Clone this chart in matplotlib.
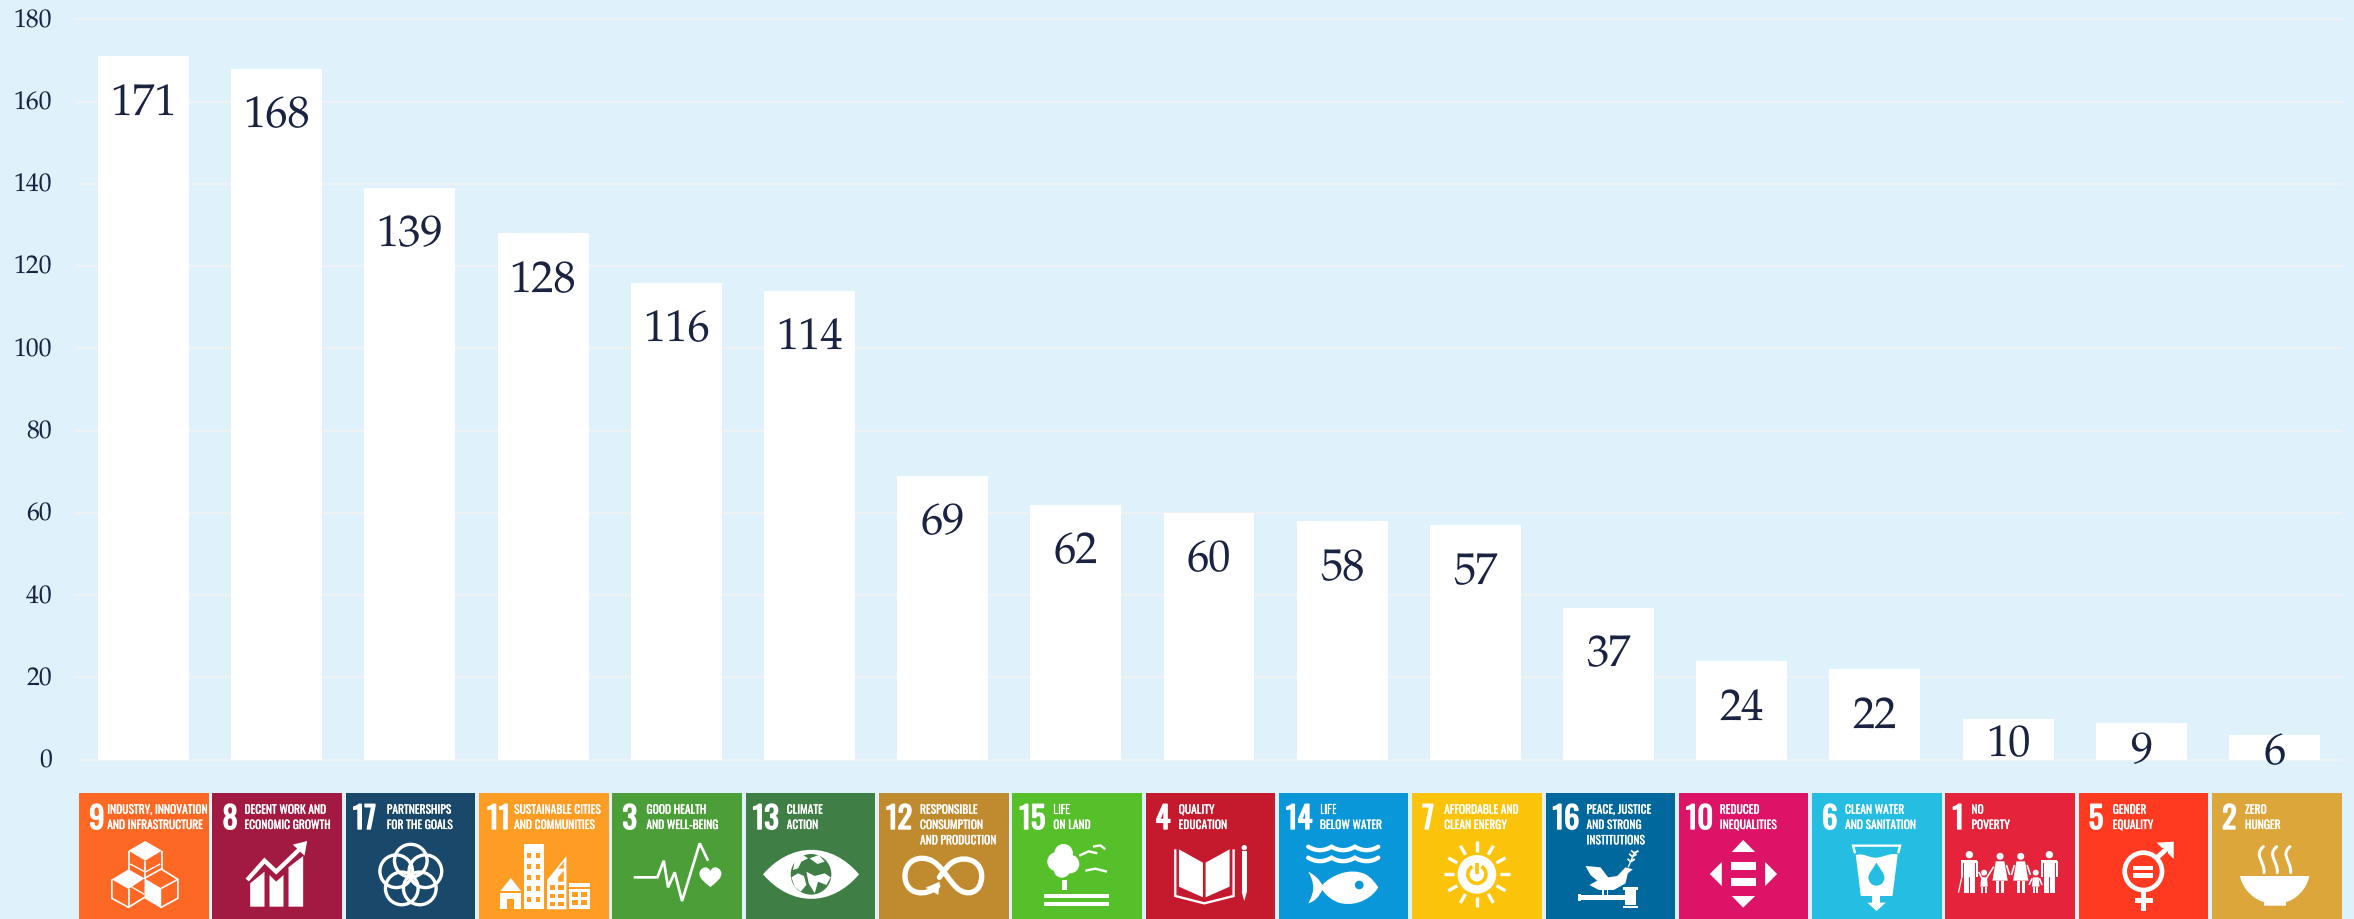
import numpy as np
import matplotlib
matplotlib.use('Agg')
import matplotlib.pyplot as plt
import matplotlib.font_manager as fm
import matplotlib.patheffects as pe
import matplotlib.transforms as mtrans
from matplotlib.patches import Polygon, Circle, Rectangle, PathPatch
from matplotlib.path import Path

plt.rcParams['text.hinting'] = 'no_hinting'
plt.rcParams['text.hinting_factor'] = 1

# ---------- data ----------
goal_numbers = ['9', '8', '17', '11', '3', '13', '12', '15', '4', '14', '7', '16', '10', '6', '1', '5', '2']
counts = [171, 168, 139, 128, 116, 114, 69, 62, 60, 58, 57, 37, 24, 22, 10, 9, 6]
goal_titles = [
    ['INDUSTRY, INNOVATION', 'AND INFRASTRUCTURE'], ['DECENT WORK AND', 'ECONOMIC GROWTH'],
    ['PARTNERSHIPS', 'FOR THE GOALS'], ['SUSTAINABLE CITIES', 'AND COMMUNITIES'],
    ['GOOD HEALTH', 'AND WELL-BEING'], ['CLIMATE', 'ACTION'],
    ['RESPONSIBLE', 'CONSUMPTION', 'AND PRODUCTION'], ['LIFE', 'ON LAND'],
    ['QUALITY', 'EDUCATION'], ['LIFE', 'BELOW WATER'],
    ['AFFORDABLE AND', 'CLEAN ENERGY'], ['PEACE, JUSTICE', 'AND STRONG', 'INSTITUTIONS'],
    ['REDUCED', 'INEQUALITIES'], ['CLEAN WATER', 'AND SANITATION'],
    ['NO', 'POVERTY'], ['GENDER', 'EQUALITY'], ['ZERO', 'HUNGER'],
]
goal_colors = ['#FD6925', '#A21942', '#19486A', '#FD9D24', '#4C9F38', '#3F7E44', '#BF8B2E', '#56C02B',
               '#C5192D', '#0A97D9', '#FCC30B', '#00689D', '#DD1367', '#26BDE2', '#E5243B', '#FF3A21', '#DDA63A']
y_ticks = [0, 20, 40, 60, 80, 100, 120, 140, 160, 180]

# ---------- style ----------
W, H = 2354, 920
BG = '#DFF1FB'
GRID = '#EFF1F3'
INK = '#1A2342'
installed = {f.name for f in fm.fontManager.ttflist}
def pick(*names):
    for n in names:
        if n in installed:
            return n
    return 'DejaVu Sans'
SERIF = pick('Palatino Linotype', 'Book Antiqua', 'TeX Gyre Pagella', 'P052', 'URW Palladio L', 'Gelasio', 'Liberation Serif')
COND = pick('Oswald', 'Liberation Sans Narrow', 'Roboto Condensed', 'Roboto')

fig = plt.figure(figsize=(W / 100, H / 100), dpi=100, facecolor=BG)
L, R, Y0, Y180 = 77, 2341, 760.7, 20.3
ax = fig.add_axes([L / W, 1 - Y0 / H, (R - L) / W, (Y0 - Y180) / H], facecolor='none')
x = np.arange(len(counts))
ax.set_xlim(-0.5, len(counts) - 0.5)
ax.set_ylim(0, 180)
for s in ax.spines.values():
    s.set_visible(False)
ax.set_axisbelow(True)
ax.yaxis.grid(True, color=GRID, lw=1.5, clip_on=False)
ax.set_xticks([])
ax.set_yticks(y_ticks)
ax.tick_params(axis='y', length=0, pad=18, labelsize=18.5, labelcolor=INK)
lift = mtrans.ScaledTranslation(0, 2.5 / 100, fig.dpi_scale_trans)
for t in ax.get_yticklabels():
    t.set_fontfamily(SERIF)
    t.set_clip_on(False)
    t.set_transform(t.get_transform() + lift)
ax.bar(x, counts, width=0.683, color='white', zorder=2)

# labels sit a fixed distance under the bar top; the three shortest bars hold them closer
short_drop = {10: 37, 9: 39, 6: 28}
for xi, v in zip(x, counts):
    drop = short_drop.get(v, 57.5)
    ax.annotate(str(v), (xi, v), xytext=(0, -drop * 0.72), textcoords='offset points',
                ha='center', va='baseline', fontsize=32, color=INK, family=SERIF,
                zorder=3, annotation_clip=False)

# ---------- tiles: each has its own axes in "zoom units" (3 per pixel) ----------
TILE_LEFT0, TILE_PITCH, TILE_W, TILE_TOP = 79.2, 133.3, 129.5, 794.0

def tile_axes(i, ox, oy=9):
    a = fig.add_axes([(TILE_LEFT0 + TILE_PITCH * i) / W, 0, TILE_W / W, (H - TILE_TOP) / H])
    a.set_xlim(ox, ox + TILE_W * 3)
    a.set_ylim(oy + (H - TILE_TOP) * 3, oy)
    a.set_facecolor(goal_colors[i])
    a.set_xticks([]); a.set_yticks([])
    for s in a.spines.values():
        s.set_visible(False)
    return a

def poly(a, pts, c='white'):
    a.add_patch(Polygon(pts, closed=True, fc=c, ec='none'))
def rect(a, x0, y0, x1, y1, c='white'):
    a.add_patch(Rectangle((x0, y0), x1 - x0, y1 - y0, fc=c, ec='none'))
def circ(a, cx, cy, r, c='white'):
    a.add_patch(Circle((cx, cy), r, fc=c, ec='none'))
def ring(a, cx, cy, r, w, c='white'):
    a.add_patch(Circle((cx, cy), r, fc='none', ec=c, lw=w * 0.24))
def line(a, pts, w, c='white', cap='butt', join='miter'):
    xs, ys = zip(*pts)
    a.plot(xs, ys, color=c, lw=w * 0.24, solid_capstyle=cap, solid_joinstyle=join)
def curve(a, verts, w=None, c='white', fill=False):
    codes = [Path.MOVETO]
    out = [verts[0]]
    for seg in verts[1:]:
        if len(seg) == 2 and not isinstance(seg[0], tuple):
            codes.append(Path.LINETO); out.append(seg)
        else:
            codes += [Path.CURVE4] * 3; out += list(seg)
    if fill:
        a.add_patch(PathPatch(Path(out, codes), fc=c, ec='none'))
    else:
        a.add_patch(PathPatch(Path(out, codes), fc='none', ec=c, lw=w * 0.24, capstyle='round'))

def icon9(a):
    poly(a, [(210, 153), (260, 182), (210, 212), (160, 182)])
    line(a, [(160, 182), (160, 240)], 5); line(a, [(260, 182), (260, 240)], 5); line(a, [(210, 212), (210, 268)], 5)
    line(a, [(165, 222), (208, 245)], 4); line(a, [(255, 222), (212, 245)], 4)
    poly(a, [(110, 268), (160, 238), (208, 265), (160, 297)])
    line(a, [(110, 268), (110, 325), (160, 352), (208, 322)], 5); line(a, [(160, 297), (160, 352)], 5)
    line(a, [(168, 290), (208, 313)], 4)
    line(a, [(208, 265), (258, 237), (308, 268), (308, 325), (258, 352), (208, 322)], 5)
    poly(a, [(208, 265), (258, 295), (258, 352), (208, 322)]); line(a, [(258, 295), (308, 268)], 5)

def icon8(a):
    poly(a, [(527, 350), (527, 280), (570, 245), (570, 350)])
    poly(a, [(585, 350), (585, 255), (605, 275), (627, 255), (627, 350)])
    poly(a, [(642, 350), (642, 232), (686, 198), (686, 350)])
    line(a, [(518, 270), (570, 212), (605, 245), (675, 178)], 13)
    poly(a, [(698, 153), (655, 164), (690, 197)])

def icon17(a):
    for ang in np.deg2rad([-90, -18, 54, 126, 198]):
        ring(a, 1008 + 46 * np.cos(ang), 258 + 46 * np.sin(ang), 49, 10)

def icon11(a):
    o = '#FD9D24'
    rect(a, 1347, 162, 1407, 358)
    for yy in (188, 222, 255, 288, 321):
        rect(a, 1357, yy, 1369, yy + 16, o); rect(a, 1383, yy, 1395, yy + 16, o)
    poly(a, [(1276, 303), (1307, 264), (1338, 303)])
    rect(a, 1276, 310, 1338, 358); rect(a, 1296, 326, 1318, 358, o)
    poly(a, [(1416, 358), (1416, 270), (1474, 198), (1474, 358)])
    for yy in (286, 311, 335):
        rect(a, 1424, yy, 1441, yy + 13, o); rect(a, 1449, yy, 1466, yy + 13, o)
    poly(a, [(1449, 262), (1466, 242), (1466, 275), (1449, 275)], o)
    poly(a, [(1450, 236), (1466, 216), (1466, 236)], o)
    rect(a, 1482, 280, 1544, 292); rect(a, 1482, 298, 1544, 358)
    for yy in (306, 329):
        rect(a, 1490, yy, 1510, yy + 15, o); rect(a, 1518, yy, 1537, yy + 15, o)

def icon3(a):
    line(a, [(115, 262), (186, 262), (205, 212), (218, 292), (238, 247), (260, 333), (313, 160), (338, 212)], 8, join='miter')
    curve(a, [(345, 291), ((325, 275), (312, 265), (312, 251)), ((312, 235), (335, 222), (345, 243)),
              ((355, 222), (378, 235), (378, 251)), ((378, 265), (365, 275), (345, 291))], fill=True)

def icon13(a):
    g = '#3F7E44'
    curve(a, [(505, 253), ((590, 155), (710, 155), (793, 253)), ((710, 351), (590, 351), (505, 253))], fill=True)
    circ(a, 649, 253, 61, g)
    poly(a, [(600, 210), (625, 195), (640, 205), (620, 215), (610, 235), (595, 240)])
    poly(a, [(590, 262), (610, 250), (628, 258), (635, 285), (618, 305), (600, 290)])
    poly(a, [(635, 245), (660, 258), (690, 250), (708, 262), (695, 285), (670, 275), (660, 310), (642, 280)])
    poly(a, [(645, 205), (672, 195), (690, 215), (668, 222)])

def icon12(a):
    curve(a, [(1028, 288), ((995, 322), (930, 315), (930, 258)), ((930, 200), (995, 190), (1028, 225)),
              ((1050, 245), (1065, 275), (1085, 293)), ((1115, 322), (1160, 310), (1160, 258)),
              ((1160, 205), (1095, 192), (1062, 225)), ((1050, 238), (1040, 252), (1033, 262))], w=16)
    poly(a, [(1034, 275), (1030, 315), (992, 293)])

def icon15(a):
    for cx, cy, r in [(1405, 190, 28), (1385, 215, 29), (1424, 222, 28), (1400, 238, 25)]:
        circ(a, cx, cy, r)
    rect(a, 1399, 270, 1414, 300); rect(a, 1347, 313, 1540, 325); rect(a, 1347, 336, 1540, 349)
    line(a, [(1452, 197), (1480, 184), (1506, 190)], 7)
    line(a, [(1493, 170), (1515, 166), (1530, 178)], 7)
    line(a, [(1470, 242), (1500, 236), (1535, 245)], 7)

def icon4(a):
    poly(a, [(193, 178), (265, 218), (265, 322), (193, 290)])
    poly(a, [(273, 218), (345, 178), (345, 290), (273, 322)])
    line(a, [(182, 178), (182, 318), (269, 340), (357, 318), (357, 178)], 7)
    rect(a, 381, 182, 397, 305); poly(a, [(381, 305), (397, 305), (389, 333)]); circ(a, 389, 173, 8)

def wave(y):
    v = [(580, y)]
    for i in range(3):
        x0 = 580 + 70 * i
        v.append(((x0 + 23, y + 14), (x0 + 47, y + 14), (x0 + 70, y)))
    return v

def icon14(a):
    curve(a, wave(170), w=13); curve(a, wave(203), w=13)
    curve(a, [(580, 245), ((605, 258), (615, 272), (622, 285)), ((650, 255), (705, 232), (750, 252)),
              ((770, 262), (782, 280), (790, 292)), ((775, 320), (730, 350), (680, 340)),
              ((655, 335), (635, 318), (622, 300)), ((612, 320), (600, 335), (580, 340)),
              ((600, 305), (600, 280), (580, 245))], fill=True)
    circ(a, 733, 285, 13, '#0A97D9')

def icon7(a):
    y = '#FCC30B'
    circ(a, 1085, 253, 58)
    for deg in range(0, 360, 30):
        t = np.deg2rad(deg)
        line(a, [(1085 + 68 * np.cos(t), 253 + 68 * np.sin(t)), (1085 + 99 * np.cos(t), 253 + 99 * np.sin(t))], 10)
    th = np.deg2rad(np.linspace(-60, 240, 40))
    line(a, list(zip(1085 + 27 * np.cos(th), 253 + 27 * np.sin(th))), 11, c=y)
    line(a, [(1085, 218), (1085, 252)], 11, c=y)

def icon16(a):
    poly(a, [(1410, 228), (1455, 232), (1478, 262), (1505, 258), (1530, 232), (1552, 238), (1537, 250),
             (1530, 280), (1495, 300), (1450, 300), (1422, 285), (1445, 272), (1425, 255)])
    rect(a, 1460, 298, 1465, 318); rect(a, 1473, 298, 1478, 318)
    line(a, [(1538, 232), (1558, 185)], 4)
    for p in [(1545, 215), (1550, 200), (1556, 190)]:
        line(a, [p, (p[0] + 13, p[1] - 8)], 6); line(a, [p, (p[0] - 9, p[1] - 9)], 5)
    rect(a, 1395, 316, 1530, 330); rect(a, 1388, 313, 1396, 333)
    rect(a, 1528, 301, 1562, 345); rect(a, 1523, 292, 1567, 300); rect(a, 1523, 347, 1567, 354)

def icon10(a):
    poly(a, [(325, 150), (361, 186), (291, 186)]); poly(a, [(291, 318), (361, 318), (325, 353)])
    poly(a, [(225, 252), (261, 216), (261, 288)]); poly(a, [(391, 216), (427, 252), (391, 288)])
    rect(a, 289, 217, 363, 241); rect(a, 289, 263, 363, 287)

def icon6(a):
    b = '#26BDE2'
    line(a, [(660, 190), (654, 167), (795, 167), (789, 190)], 7)
    curve(a, [(662, 195), ((690, 188), (700, 205), (725, 203)), ((750, 200), (765, 188), (788, 193)),
              (772, 318), (677, 318)], fill=True)
    rect(a, 712, 318, 736, 338); poly(a, [(697, 338), (752, 338), (724, 363)])
    circ(a, 724, 263, 24, b); poly(a, [(724, 218), (745, 251), (703, 251)], b)

def person(a, hx, hy, x0, x1):
    circ(a, hx, hy, 11)
    rect(a, x0 + 2, hy + 15, x1 - 2, hy + 26)
    rect(a, x0, hy + 20, x0 + 6, hy + 68); rect(a, x1 - 6, hy + 20, x1, hy + 68)
    rect(a, x0 + 10, hy + 26, x1 - 10, hy + 68)
    rect(a, x0 + 10, hy + 66, hx - 2, 578); rect(a, hx + 2, hy + 66, x1 - 10, 578)

def woman(a, hx):
    circ(a, hx, 469, 10.5)
    poly(a, [(hx - 13, 484), (hx + 13, 484), (hx + 23, 542), (hx - 23, 542)])
    rect(a, hx - 11, 542, hx - 2, 578); rect(a, hx + 3, 542, hx + 12, 578)

def child(a, hx):
    circ(a, hx, 518, 9)
    poly(a, [(hx - 9, 532), (hx + 9, 532), (hx + 11, 560), (hx - 11, 560)])
    rect(a, hx - 8, 560, hx - 2, 578); rect(a, hx + 2, 560, hx + 8, 578)

def icon1(a):
    person(a, 117, 464, 91, 143); person(a, 357, 464, 331, 383)
    woman(a, 209); woman(a, 271); child(a, 161); child(a, 316)
    line(a, [(84, 578), (97, 520)], 4)
    line(a, [(145, 516), (155, 535)], 5); line(a, [(168, 535), (190, 500)], 5)
    line(a, [(228, 495), (238, 525)], 5); line(a, [(252, 495), (243, 525)], 5)
    line(a, [(290, 495), (300, 525)], 5); line(a, [(305, 535), (296, 555)], 5); line(a, [(327, 535), (335, 555)], 5)

def icon5(a):
    ring(a, 638, 514, 56, 14)
    rect(a, 608, 497, 668, 510); rect(a, 608, 520, 668, 533)
    rect(a, 630, 575, 647, 632); rect(a, 612, 594, 668, 610)
    line(a, [(678, 474), (715, 440)], 15)
    poly(a, [(678, 428), (729, 425), (729, 477), (712, 460), (711, 443), (694, 444)])

def icon2(a):
    curve(a, [(930, 528), (1138, 528), ((1130, 570), (1095, 600), (1068, 606)), (1068, 617), (1002, 617),
              (1002, 606), ((975, 600), (938, 570), (930, 528))], fill=True)
    for sx in (1000, 1040, 1080):
        curve(a, [(sx, 440), ((sx - 30, 465), (sx + 5, 485), (sx + 2, 518))], w=9)

icons = {'9': (icon9, 12, 9), '8': (icon8, 414, 9), '17': (icon17, 813, 9), '11': (icon11, 1212, 9),
         '3': (icon3, 51, 9), '13': (icon13, 453, 9), '12': (icon12, 852, 9), '15': (icon15, 1251, 9),
         '4': (icon4, 93, 9), '14': (icon14, 492, 9), '7': (icon7, 891, 9), '16': (icon16, 1290, 9),
         '10': (icon10, 132, 9), '6': (icon6, 531, 9), '1': (icon1, 45, 279), '5': (icon5, 444, 279),
         '2': (icon2, 846, 279)}
# title indent inside the tile, pixels; number indent, pixels
title_indent = {'9': 28, '8': 32, '17': 41, '11': 35, '3': 34, '13': 41, '12': 41, '15': 41, '4': 33,
                '14': 41, '7': 32, '16': 41, '10': 41, '6': 33, '1': 26, '5': 34, '2': 33}
number_indent = {'9': 10, '8': 10, '17': 7, '11': 8, '3': 10, '13': 7, '12': 7, '15': 7, '4': 10,
                 '14': 7, '7': 10, '16': 7, '10': 7, '6': 10, '1': 7, '5': 10, '2': 10}

for i, g in enumerate(goal_numbers):
    fn, ox, oy = icons[g]
    a = tile_axes(i, ox, oy)
    a.text(ox + number_indent[g] * 3, oy + 108, g, family=COND, fontsize=22, color='white', ha='left', va='baseline',
           path_effects=[pe.withStroke(linewidth=1.0, foreground='white')])
    for j, t in enumerate(goal_titles[i]):
        a.text(ox + title_indent[g] * 3, oy + 62 + 46 * j, t, family=COND, fontsize=8.3, color='white',
               ha='left', va='baseline', path_effects=[pe.withStroke(linewidth=0.15, foreground='white')])
    fn(a)

fig.savefig('out.png', dpi=100, facecolor=BG)
